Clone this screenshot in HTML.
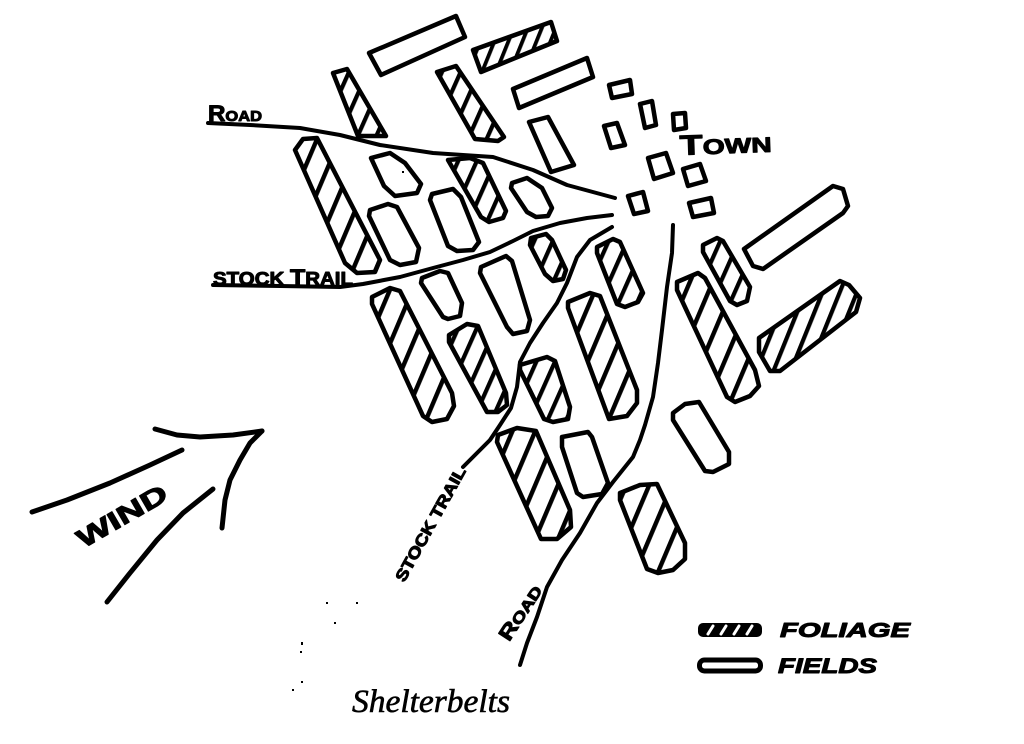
<!DOCTYPE html>
<html>
<head>
<meta charset="utf-8">
<style>
html,body{margin:0;padding:0;background:#fff;}
svg{display:block;}
</style>
</head>
<body>
<svg width="1024" height="744" viewBox="0 0 1024 744" xmlns="http://www.w3.org/2000/svg">
<defs>
  <pattern id="hA" patternUnits="userSpaceOnUse" width="21" height="21" patternTransform="rotate(23)">
    <rect x="8" y="0" width="4.4" height="21" fill="#000"/>
  </pattern>
  <pattern id="hM" patternUnits="userSpaceOnUse" width="17" height="17" patternTransform="rotate(24)">
    <rect x="6" y="0" width="4.2" height="17" fill="#000"/>
  </pattern>
  <pattern id="hB" patternUnits="userSpaceOnUse" width="13" height="13" patternTransform="rotate(22)">
    <rect x="4" y="0" width="3.8" height="13" fill="#000"/>
  </pattern>
  <pattern id="hC" patternUnits="userSpaceOnUse" width="16" height="16" patternTransform="rotate(22)">
    <rect x="6" y="0" width="4.2" height="16" fill="#000"/>
  </pattern>
</defs>
<rect width="1024" height="744" fill="#fff"/>

<!-- roads and trails -->
<g fill="none" stroke="#000" stroke-width="4" stroke-linecap="round" stroke-linejoin="round">
  <polyline points="208,123 250,125 300,128 340,135 380,145 433,153 493,157 533,170 567,185 615,198"/>
  <polyline points="213,285 280,286 340,287 363,284 400,277 433,268 463,260 490,252 513,241 533,231 560,223 587,218 612,215"/>
  <polyline points="612,227 590,240 577,257 567,283 557,303 543,323 530,343 520,362 517,387 511,408 500,425 490,440 477,453 463,467"/>
  <polyline points="673,225 672,253 667,287 662,330 658,363 653,397 645,425 640,440 633,457 613,482 597,503 580,533 562,560 547,587 537,617 527,643 520,665"/>
</g>

<!-- fields -->
<g fill="#fff" stroke="#000" stroke-width="4.5" stroke-linejoin="round">
  <polygon points="369,53 456,16 465,37 381,75"/>
  <polygon points="513,89 587,58 593,77 519,108"/>
  <polygon points="529,122 548,117 574,165 551,172"/>
  <polygon points="371,158 390,153 405,163 421,184 417,193 395,196 384,186"/>
  <polygon points="370,210 388,204 397,207 419,248 416,262 400,265 390,260 369,216"/>
  <polygon points="432,194 453,189 461,197 479,242 473,250 457,251 448,246 430,200"/>
  <polygon points="512,183 527,178 542,188 552,208 548,216 536,217 527,212 511,188"/>
  <polygon points="422,278 440,271 448,273 462,303 460,316 448,319 443,317 421,283"/>
  <polygon points="481,267 506,256 512,261 530,320 527,331 513,334 507,327 480,273"/>
  <polygon points="744,249 833,186 843,189 848,206 843,213 763,269 753,266"/>
  <polygon points="673,413 685,404 699,402 729,452 729,464 713,472 705,471 673,420"/>
  <polygon points="562,437 588,432 592,437 608,483 602,494 583,497 577,493 562,447"/>
</g>

<!-- foliage (hatched) -->
<g stroke="#000" stroke-width="4.5" stroke-linejoin="round">
  <polygon fill="url(#hB)" points="473,50 551,22 557,41 481,72"/>
  <polygon fill="url(#hM)" points="333,73 347,69 386,136 358,136"/>
  <polygon fill="url(#hM)" points="437,72 456,66 504,137 498,141 475,139"/>
  <polygon fill="url(#hA)" points="295,150 303,139 317,138 380,260 375,272 357,273 345,263"/>
  <polygon fill="url(#hM)" points="448,160 470,158 483,163 506,211 503,218 489,222 481,217"/>
  <polygon fill="url(#hM)" points="531,238 546,234 552,240 566,270 563,279 553,281 545,274 530,245"/>
  <polygon fill="url(#hA)" points="372,297 390,288 400,291 452,393 454,406 447,419 432,422 423,416 372,304"/>
  <polygon fill="url(#hM)" points="449,335 467,324 478,326 506,393 507,405 498,412 487,412 449,342"/>
  <polygon fill="url(#hM)" points="597,247 613,239 620,242 643,293 638,302 625,307 617,304 597,253"/>
  <polygon fill="url(#hA)" points="568,302 590,293 600,296 637,390 637,403 627,416 609,419 568,308"/>
  <polygon fill="url(#hM)" points="520,365 547,357 555,361 570,407 568,419 553,422 544,419 520,370"/>
  <polygon fill="url(#hM)" points="703,245 717,238 723,241 750,287 747,301 737,305 730,301 703,252"/>
  <polygon fill="url(#hA)" points="677,282 698,273 705,278 755,370 759,386 750,396 735,402 727,397 677,290"/>
  <polygon fill="url(#hC)" points="759,338 840,281 849,285 860,298 856,312 780,371 770,371 759,352"/>
  <polygon fill="url(#hA)" points="498,435 517,428 536,431 570,510 571,527 557,539 541,539 497,442"/>
  <polygon fill="url(#hA)" points="620,493 640,485 657,484 685,543 685,559 673,570 658,573 647,569 620,500"/>
</g>

<!-- town buildings -->
<g fill="#fff" stroke="#000" stroke-width="4.5" stroke-linejoin="round">
  <polygon points="609,85 630,80 632,94 612,98"/>
  <polygon points="640,104 652,101 656,125 645,128"/>
  <polygon points="604,126 617,123 625,145 611,148"/>
  <polygon points="673,114 685,113 686,128 674,130"/>
  <polygon points="648,158 666,153 673,173 654,179"/>
  <polygon points="683,169 700,164 706,181 688,186"/>
  <polygon points="628,196 643,192 648,211 634,214"/>
  <polygon points="689,203 711,198 714,213 693,217"/>
</g>

<!-- wind arrow -->
<g fill="none" stroke="#000" stroke-width="5" stroke-linecap="round" stroke-linejoin="round">
  <polyline points="32,512 67,500 110,483 150,465 182,450"/>
  <polyline points="155,429 177,435 200,437 233,435 262,431"/>
  <polyline points="262,431 250,443 240,460 230,480 225,500 222,528"/>
  <polyline points="107,602 130,573 157,540 183,513 213,489"/>
</g>

<!-- labels -->
<g font-family="Liberation Sans, sans-serif" font-weight="bold" fill="#000" stroke="#000" stroke-width="1" stroke-linejoin="round">
  <text x="208" y="121" textLength="54" lengthAdjust="spacingAndGlyphs"><tspan font-size="22">R</tspan><tspan font-size="15">OAD</tspan></text>
  <text x="213" y="285" font-size="18" textLength="140" lengthAdjust="spacingAndGlyphs">STOCK <tspan font-size="22">T</tspan>RAIL</text>
  <text x="680" y="155" textLength="92" lengthAdjust="spacingAndGlyphs" transform="rotate(-2 680 155)"><tspan font-size="28">T</tspan><tspan font-size="21">OWN</tspan></text>
  <text transform="translate(122,516) rotate(-30)" x="-50" y="9" font-size="26" textLength="100" lengthAdjust="spacingAndGlyphs">WIND</text>
  <text transform="translate(430,524) rotate(-61)" x="-64" y="6" font-size="16" textLength="128" lengthAdjust="spacingAndGlyphs">STOCK TRAIL</text>
  <text transform="translate(521,613) rotate(-57)" x="-31" y="6" textLength="62" lengthAdjust="spacingAndGlyphs"><tspan font-size="20">R</tspan><tspan font-size="15">OAD</tspan></text>
  <text x="780" y="637" font-size="20" font-style="italic" textLength="130" lengthAdjust="spacingAndGlyphs">FOLIAGE</text>
  <text x="778" y="673" font-size="21" font-style="italic" textLength="99" lengthAdjust="spacingAndGlyphs">FIELDS</text>
</g>

<!-- legend swatches -->
<rect x="699" y="624" width="62" height="12" rx="4" fill="#000" stroke="#000" stroke-width="2"/>
<g stroke="#fff" stroke-width="3" stroke-linecap="round">
  <line x1="708" y1="634" x2="713" y2="626"/>
  <line x1="721" y1="634" x2="726" y2="626"/>
  <line x1="734" y1="634" x2="739" y2="626"/>
  <line x1="747" y1="634" x2="752" y2="626"/>
</g>
<rect x="699.5" y="660" width="61" height="11" rx="5" fill="#fff" stroke="#000" stroke-width="5"/>

<!-- caption -->
<text x="352" y="712" font-family="Liberation Serif, serif" font-style="italic" font-size="33" textLength="158" lengthAdjust="spacingAndGlyphs" fill="#000" stroke="#000" stroke-width="0.6">Shelterbelts</text>

<!-- specks -->
<g fill="#000">
  <rect x="326" y="602" width="2" height="2"/>
  <rect x="356" y="602" width="2" height="2"/>
  <rect x="334" y="622" width="2" height="2"/>
  <rect x="301" y="642" width="2" height="3"/>
  <rect x="300" y="651" width="2" height="2"/>
  <rect x="301" y="681" width="2" height="2"/>
  <rect x="292" y="689" width="2" height="2"/>
  <rect x="402" y="171" width="2" height="2"/>
</g>
</svg>
</body>
</html>
